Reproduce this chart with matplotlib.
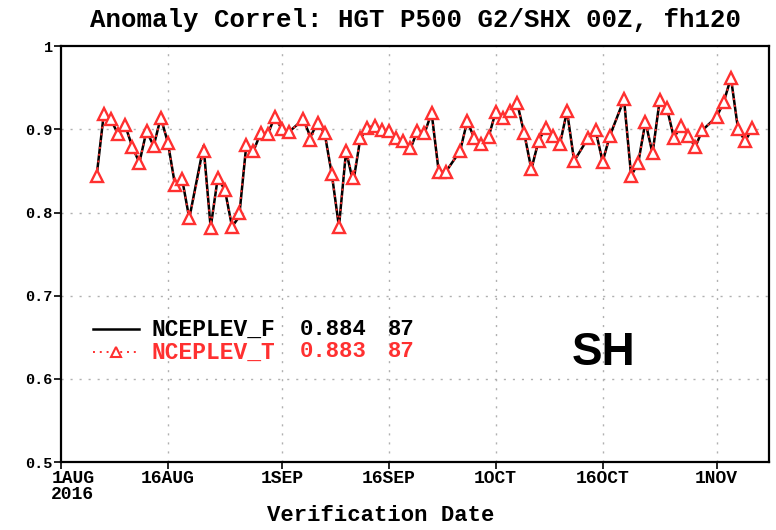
import numpy as np
import pandas as pd
import matplotlib
matplotlib.use("Agg")
import matplotlib.pyplot as plt
import matplotlib.transforms as mtransforms

# ---------------- data ----------------
start_date = "2016-08-01"
day_offsets = [5, 6, 7, 8, 9, 10, 11, 12, 13, 14, 15, 16, 17, 18,
               20, 21, 22, 23, 24, 25, 26, 27, 28, 29, 30, 31, 32,
               34, 35, 36, 37, 38, 39, 40, 41, 42, 43, 44, 45, 46, 47, 48, 49, 50, 51, 52, 53, 54,
               56, 57, 58, 59, 60, 61, 62, 63, 64, 65, 66, 67, 68, 69, 70, 71, 72,
               74, 75, 76, 77,
               79, 80, 81, 82, 83, 84, 85, 86, 87, 88, 89, 90,
               92, 93, 94, 95, 96, 97]
nceplev_t = [0.844, 0.918, 0.912, 0.894, 0.905, 0.879, 0.860, 0.898, 0.880, 0.914, 0.884, 0.833, 0.840, 0.793,
             0.874, 0.782, 0.842, 0.827, 0.783, 0.800, 0.881, 0.874, 0.895, 0.894, 0.915, 0.900, 0.897,
             0.912, 0.887, 0.908, 0.895, 0.846, 0.783, 0.874, 0.841, 0.889, 0.902, 0.904, 0.899, 0.898, 0.889, 0.886, 0.878, 0.898, 0.895, 0.920, 0.849, 0.849,
             0.874, 0.910, 0.889, 0.882, 0.891, 0.921, 0.914, 0.922, 0.932, 0.895, 0.852, 0.886, 0.902, 0.892, 0.882, 0.922, 0.862,
             0.890, 0.899, 0.861, 0.892,
             0.936, 0.844, 0.860, 0.909, 0.871, 0.935, 0.926, 0.890, 0.904, 0.892, 0.879, 0.899,
             0.915, 0.933, 0.962, 0.900, 0.886, 0.901]
nceplev_f = [0.844, 0.918, 0.912, 0.894, 0.905, 0.879, 0.860, 0.898, 0.880, 0.914, 0.884, 0.833, 0.840, 0.793,
             0.880, 0.782, 0.842, 0.827, 0.783, 0.795, 0.881, 0.874, 0.895, 0.894, 0.915, 0.900, 0.897,
             0.912, 0.891, 0.908, 0.895, 0.846, 0.783, 0.874, 0.836, 0.889, 0.902, 0.904, 0.899, 0.898, 0.889, 0.886, 0.876, 0.898, 0.895, 0.920, 0.849, 0.849,
             0.874, 0.910, 0.889, 0.882, 0.891, 0.921, 0.914, 0.922, 0.932, 0.895, 0.852, 0.886, 0.902, 0.892, 0.882, 0.922, 0.862,
             0.890, 0.899, 0.861, 0.892,
             0.936, 0.844, 0.860, 0.909, 0.871, 0.935, 0.926, 0.890, 0.904, 0.892, 0.879, 0.899,
             0.915, 0.933, 0.962, 0.900, 0.886, 0.901]
series_names = ["NCEPLEV_F", "NCEPLEV_T"]
series_means = ["0.884", "0.883"]
series_counts = ["87", "87"]
xtick_dates = ["2016-08-01", "2016-08-16", "2016-09-01", "2016-09-16",
               "2016-10-01", "2016-10-16", "2016-11-01"]
xtick_labels = ["1AUG\n2016", "16AUG", "1SEP", "16SEP", "1OCT", "16OCT", "1NOV"]
ytick_values = [0.5, 0.6, 0.7, 0.8, 0.9, 1.0]
ytick_labels = ["0.5", "0.6", "0.7", "0.8", "0.9", "1"]
title_text = "Anomaly Correl: HGT P500 G2/SHX 00Z, fh120"
xlabel_text = "Verification Date"
region_text = "SH"

# ---------------- plot ----------------
base = pd.Timestamp(start_date)
dates = [base + pd.Timedelta(days=d) for d in day_offsets]

mono = ["Liberation Mono", "DejaVu Sans Mono"]
red = "#ff3030"

fig = plt.figure(figsize=(7.76, 5.30), dpi=100)
ax = fig.add_axes([0.0786, 0.128, 0.912, 0.785])

ax.plot(dates, nceplev_f, color="black", lw=1.8, zorder=3)
ax.plot(dates, nceplev_t, color=red, lw=1.4, ls=(0, (1, 2.5)),
        marker="^", ms=8, mfc="white", mec=red, mew=1.7, zorder=4)

ax.set_xlim(base, base + pd.Timedelta(days=99.3))
ax.set_ylim(0.5, 1.0)

xt = [pd.Timestamp(d) for d in xtick_dates]
ax.set_xticks(xt)
ax.set_xticklabels([""] + xtick_labels[1:], fontfamily=mono, fontweight="bold",
                   fontsize=13)
# first label (with year) placed slightly right of its tick, like GrADS
ax.annotate(xtick_labels[0], xy=(xt[0], 0), xycoords=("data", "axes fraction"),
            xytext=(-7, -6), textcoords="offset points", ha="left", va="top",
            fontfamily=mono, fontweight="bold", fontsize=13, linespacing=0.85,
            annotation_clip=False)
ax.set_yticks(ytick_values)
ax.set_yticklabels(ytick_labels, fontfamily=mono, fontweight="bold", fontsize=11)

ax.tick_params(axis="both", direction="out", length=5, width=1.2, pad=1, colors="black")

# grid
for d in xt[1:]:
    ax.axvline(d, color="#b0b0b0", lw=1.0, ls=(0, (1.5, 5)), zorder=1)
for v in ytick_values[1:-1]:
    ax.axhline(v, color="#b0b0b0", lw=1.0, ls=(0, (1.5, 5)), zorder=1)

for s in ax.spines.values():
    s.set_linewidth(1.6)

fig.text(0.535, 0.962, title_text, ha="center", va="center",
         fontfamily=mono, fontweight="bold", fontsize=18.5)
fig.text(0.49, 0.028, xlabel_text, ha="center", va="center",
         fontfamily=mono, fontweight="bold", fontsize=16)

# legend (GrADS style)
tr = ax.transAxes
ax.plot([0.045, 0.11], [0.32, 0.32], color="black", lw=1.8, transform=tr)
ax.plot([0.045, 0.11], [0.265, 0.265], color=red, lw=1.4, ls=(0, (1, 2.5)), transform=tr)
ax.plot([0.0775], [0.265], marker="^", ms=6.5, mfc="white", mec=red, mew=1.5,
        transform=tr, ls="none")
cols = ["black", red]
for i, yy in enumerate([0.32, 0.265]):
    ax.text(0.128, yy, series_names[i], color=cols[i], transform=tr, va="center",
            fontfamily=mono, fontweight="bold", fontsize=16.5)
    ax.text(0.338, yy, series_means[i], color=cols[i], transform=tr, va="center",
            fontfamily=mono, fontweight="bold", fontsize=16)
    ax.text(0.462, yy, series_counts[i], color=cols[i], transform=tr, va="center",
            fontfamily=mono, fontweight="bold", fontsize=16)

ax.text(0.722, 0.262, region_text, transform=tr, va="center", ha="left",
        fontfamily="Liberation Sans", fontweight="bold", fontsize=33, color="black")

fig.savefig("out.png", dpi=100)
